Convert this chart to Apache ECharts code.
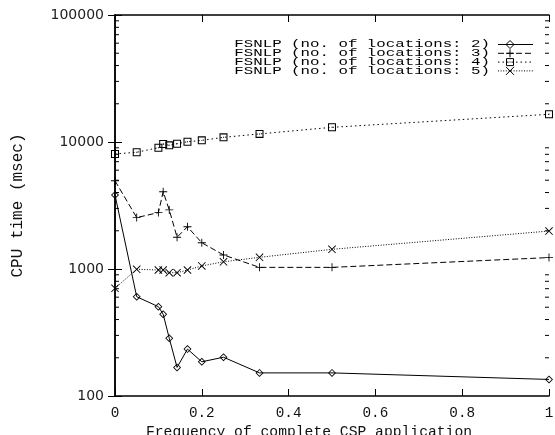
<!DOCTYPE html>
<html>
<head>
<meta charset="utf-8">
<script src="https://cdn.jsdelivr.net/npm/echarts@6/dist/echarts.min.js"></script>
<style>
  html, body { margin: 0; padding: 0; background: #fff; }
  #chart { width: 555px; height: 435px; }
</style>
</head>
<body>
<div id="chart"></div>
<script>
// Frequency of complete CSP application (x) and CPU time in msec (y)
const frequency = [0, 0.05, 0.1, 0.111, 0.125, 0.143, 0.167, 0.2, 0.25, 0.333, 0.5, 1];
const cpuLoc2 = [3830, 605, 505, 440, 285, 168, 234, 186, 202, 152, 152, 135];
const cpuLoc3 = [4950, 2540, 2780, 4060, 2920, 1780, 2150, 1610, 1290, 1030, 1030, 1230];
const cpuLoc4 = [8050, 8300, 9020, 9640, 9410, 9700, 10040, 10300, 10880, 11580, 13050, 16520];
const cpuLoc5 = [705, 995, 982, 982, 935, 935, 982, 1057, 1140, 1236, 1429, 1990];

const seriesNames = [
  'FSNLP (no. of locations: 2)',
  'FSNLP (no. of locations: 3)',
  'FSNLP (no. of locations: 4)',
  'FSNLP (no. of locations: 5)'
];
const xTickLabels = ['0', '0.2', '0.4', '0.6', '0.8', '1'];
const yTickLabels = ['100', '1000', '10000', '100000'];

const xTitle = 'Frequency of complete CSP application';
const yTitle = 'CPU time (msec)';

// point shapes: hollow outlines so the connecting line shows through
const SYM_DIAMOND = 'path://M5,0L10,5L5,10L0,5Z M5,1.5L1.5,5L5,8.5L8.5,5Z';
const SYM_PLUS = 'path://M4.45,0L5.55,0L5.55,10L4.45,10Z M0,4.45L10,4.45L10,5.55L0,5.55Z';
const SYM_BOX = 'path://M0,0L10,0L10,10L0,10Z M1.3,1.3L1.3,8.7L8.7,8.7L8.7,1.3Z M4.4,4.4L5.6,4.4L5.6,5.6L4.4,5.6Z';
const SYM_CROSS = 'path://M0,0.8L0.8,0L10,9.2L9.2,10Z M9.2,0L10,0.8L0.8,10L0,9.2Z';

const styles = [
  { values: cpuLoc2, symbol: SYM_DIAMOND, size: 8, dash: 'solid', key: 'diamond' },
  { values: cpuLoc3, symbol: SYM_PLUS, size: 8, dash: [6, 3], key: 'plus' },
  { values: cpuLoc4, symbol: SYM_BOX, size: 8, dash: [1.5, 3], key: 'box' },
  { values: cpuLoc5, symbol: SYM_CROSS, size: 8, dash: [1, 1.6], key: 'cross' }
];

// minor ticks of the log axis at 2..9 of every decade
const minorTicks = [];
for (let d = 100; d < 100000; d *= 10) {
  for (let k = 2; k <= 9; k++) minorTicks.push(k * d);
}

const chart = echarts.init(document.getElementById('chart'), null, { renderer: 'canvas' });

const lineSeries = styles.map((s, i) => ({
  type: 'line',
  name: seriesNames[i],
  data: frequency.map((x, j) => [x, s.values[j]]),
  symbol: s.symbol,
  symbolSize: s.size,
  showSymbol: true,
  clip: false,
  itemStyle: { color: '#000' },
  lineStyle: { color: '#000', width: 1, type: s.dash },
  emphasis: { disabled: true },
  z: 5
}));

const minorTickSeries = {
  type: 'custom',
  silent: true,
  clip: false,
  data: minorTicks.map(v => [0, v]),
  renderItem: (params, api) => {
    const cs = params.coordSys;
    const y = api.coord([0, api.value(1)])[1];
    const st = { stroke: '#000', lineWidth: 1 };
    return {
      type: 'group',
      children: [
        { type: 'line', shape: { x1: cs.x, y1: y, x2: cs.x + 4, y2: y }, style: st },
        { type: 'line', shape: { x1: cs.x + cs.width - 4, y1: y, x2: cs.x + cs.width, y2: y }, style: st }
      ]
    };
  },
  z: 4
};

// small point glyph for a legend row, centred on (cx, cy)
function legendMark(key, cx, cy) {
  const r = 4;
  const st = { stroke: '#000', lineWidth: 1, fill: null };
  if (key === 'diamond') {
    return [{ type: 'polygon', shape: { points: [[cx, cy - r], [cx + r, cy], [cx, cy + r], [cx - r, cy]] }, style: st }];
  }
  if (key === 'plus') {
    return [
      { type: 'line', shape: { x1: cx - r, y1: cy, x2: cx + r, y2: cy }, style: st },
      { type: 'line', shape: { x1: cx, y1: cy - r, x2: cx, y2: cy + r }, style: st }
    ];
  }
  if (key === 'box') {
    return [
      { type: 'rect', shape: { x: cx - r + 0.5, y: cy - r + 0.5, width: 2 * r - 1, height: 2 * r - 1 }, style: st },
      { type: 'rect', shape: { x: cx - 0.5, y: cy - 0.5, width: 1, height: 1 }, style: { fill: '#000' } }
    ];
  }
  return [
    { type: 'line', shape: { x1: cx - r, y1: cy - r, x2: cx + r, y2: cy + r }, style: st },
    { type: 'line', shape: { x1: cx + r, y1: cy - r, x2: cx - r, y2: cy + r }, style: st }
  ];
}

// legend block: right-aligned labels with a line/point sample each
const legendGraphics = [];
const legendX = 490, legendY0 = 44.5, legendStep = 8.8;
styles.forEach((s, i) => {
  const y = legendY0 + i * legendStep;
  legendGraphics.push({
    type: 'text',
    x: legendX, y: y,
    scaleX: 1.49,
    style: {
      text: seriesNames[i],
      fill: '#000',
      font: '10.6px "Liberation Mono"',
      textAlign: 'right',
      textVerticalAlign: 'middle'
    }
  });
  legendGraphics.push({
    type: 'line',
    shape: { x1: 498, y1: y, x2: 533, y2: y },
    style: { stroke: '#000', lineWidth: 1, lineDash: s.dash === 'solid' ? null : s.dash }
  });
  legendMark(s.key, 510, y).forEach(g => legendGraphics.push(g));
});

const axisLine = { show: true, lineStyle: { color: '#000', width: 1.5 } };

chart.setOption({
  animation: false,
  backgroundColor: '#fff',
  grid: { left: 115, right: 6, top: 15, bottom: 39, containLabel: false, outerBoundsMode: 'none' },
  xAxis: [
    {
      type: 'value', position: 'bottom', min: 0, max: 1, interval: 0.2,
      axisLine: axisLine,
      axisTick: { show: true, inside: true, length: 7, lineStyle: { color: '#000' } },
      splitLine: { show: false },
      axisLabel: {
        margin: 10, color: '#111', fontFamily: 'Liberation Mono', fontSize: 14.3,
        formatter: (v) => xTickLabels[Math.round(v / 0.2)]
      },
      name: xTitle, nameLocation: 'middle', nameGap: 19.5,
      nameTextStyle: { color: '#111', fontFamily: 'Liberation Mono', fontSize: 14.7, padding: [0, 46, 0, 0] }
    },
    {
      type: 'value', position: 'top', min: 0, max: 1, interval: 0.2,
      axisLine: axisLine,
      axisTick: { show: true, inside: true, length: 7, lineStyle: { color: '#000' } },
      splitLine: { show: false },
      axisLabel: { show: false }
    }
  ],
  yAxis: [
    {
      type: 'log', logBase: 10, position: 'left', min: 100, max: 100000,
      axisLine: axisLine,
      axisTick: { show: true, inside: true, length: 7, lineStyle: { color: '#000' } },
      minorTick: { show: false },
      splitLine: { show: false },
      axisLabel: {
        margin: 11, color: '#222', fontFamily: 'DejaVu Sans', fontSize: 14,
        formatter: (v) => yTickLabels[Math.round(Math.log10(v)) - 2]
      },
      name: yTitle, nameLocation: 'middle', nameGap: 89,
      nameTextStyle: { color: '#111', fontFamily: 'Liberation Mono', fontSize: 16 }
    },
    {
      type: 'log', logBase: 10, position: 'right', min: 100, max: 100000,
      axisLine: axisLine,
      axisTick: { show: true, inside: true, length: 7, lineStyle: { color: '#000' } },
      splitLine: { show: false },
      axisLabel: { show: false }
    }
  ],
  series: [minorTickSeries].concat(lineSeries),
  graphic: { elements: legendGraphics }
});
</script>
</body>
</html>
